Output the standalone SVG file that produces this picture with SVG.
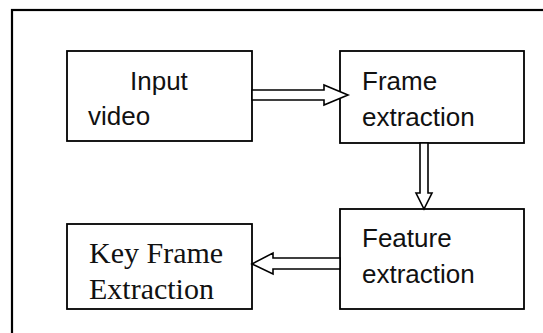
<svg xmlns="http://www.w3.org/2000/svg" width="543" height="333" viewBox="0 0 543 333">
  <style>
    .box { fill: #ffffff; stroke: #000000; stroke-width: 1.8; }
    .frame { fill: none; stroke: #000000; stroke-width: 2.2; }
    .arrow { fill: #ffffff; stroke: #000000; stroke-width: 1.6; stroke-linejoin: miter; }
    .sans { font-family: "Liberation Sans", Arial, sans-serif; font-size: 26px; fill: #111111; }
    .serif { font-family: "Liberation Serif", "Times New Roman", serif; font-size: 30px; fill: #111111; }
  </style>
  <rect width="543" height="333" fill="#ffffff"/>
  <!-- outer border, open past the right and bottom edges -->
  <rect class="frame" x="12" y="10" width="560" height="360"/>

  <g id="input-video">
    <rect class="box" x="67" y="51" width="185" height="90"/>
    <text class="sans" x="130" y="90">Input</text>
    <text class="sans" x="88" y="125">video</text>
  </g>

  <g id="frame-extraction">
    <rect class="box" x="340" y="51" width="184" height="92"/>
    <text class="sans" x="362" y="90">Frame</text>
    <text class="sans" x="362" y="126">extraction</text>
  </g>

  <g id="feature-extraction">
    <rect class="box" x="340" y="209" width="184" height="100"/>
    <text class="sans" x="362" y="247">Feature</text>
    <text class="sans" x="362" y="283">extraction</text>
  </g>

  <g id="key-frame-extraction">
    <rect class="box" x="67" y="224" width="185" height="85"/>
    <text class="serif" x="89" y="263">Key Frame</text>
    <text class="serif" x="89" y="299">Extraction</text>
  </g>

  <g id="connectors">
    <!-- block arrow: Input video to Frame extraction -->
    <polygon class="arrow" points="252,90 324,90 324,85 348,95 324,105 324,100 252,100"/>
    <!-- block arrow: Frame extraction to Feature extraction -->
    <polygon class="arrow" points="420,143 428,143 428,193 432,193 424,209 416,193 420,193"/>
    <!-- block arrow: Feature extraction to Key Frame Extraction -->
    <polygon class="arrow" points="340,258 273,258 273,253 252,264 273,274 273,269 340,269"/>
  </g>
</svg>
